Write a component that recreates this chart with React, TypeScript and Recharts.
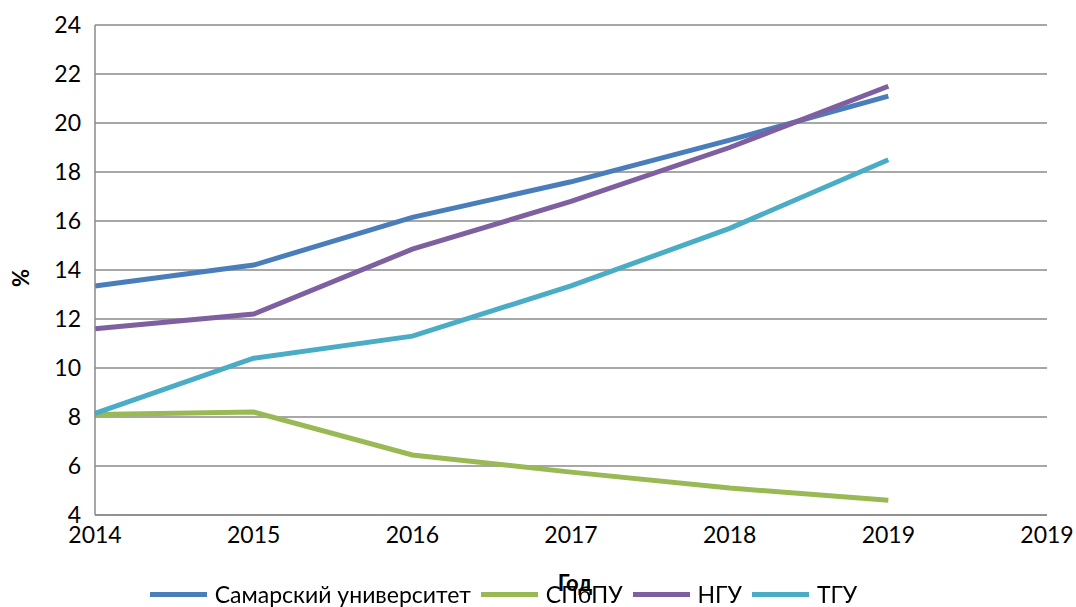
import React from "react";
import { LineChart, Line, XAxis, YAxis, CartesianGrid, Legend } from "recharts";

const YEARS = [2014, 2015, 2016, 2017, 2018, 2019];
const X_TICKS = [2014, 2015, 2016, 2017, 2018, 2019, 2020];
const X_TICK_LABELS = ["2014", "2015", "2016", "2017", "2018", "2019", "2019"];
const Y_TICKS = [4, 6, 8, 10, 12, 14, 16, 18, 20, 22, 24];

const SAMARA = [13.35, 14.2, 16.15, 17.6, 19.3, 21.1];
const SPBPU = [8.1, 8.2, 6.45, 5.75, 5.1, 4.6];
const NGU = [11.6, 12.2, 14.85, 16.8, 19.0, 21.5];
const TGU = [8.15, 10.4, 11.3, 13.35, 15.7, 18.5];

const SERIES = [
  { key: "samara", name: "Самарский университет", color: "#4A7EBB", values: SAMARA },
  { key: "spbpu", name: "СПбПУ", color: "#98B954", values: SPBPU },
  { key: "ngu", name: "НГУ", color: "#7E5FA0", values: NGU },
  { key: "tgu", name: "ТГУ", color: "#4BACC6", values: TGU },
];

const data = YEARS.map((year, i) => {
  const row: any = { year };
  SERIES.forEach((s) => {
    row[s.key] = s.values[i];
  });
  return row;
});

const FONT = "Lato, 'DejaVu Sans', sans-serif";
const GRID = "#8a8a8a";
const FS = 23;

// legend drawn by hand: line swatch + label, shifted a bit left like the original
const renderLegend = () => (
  <div style={{ display: "flex", justifyContent: "center", alignItems: "center", fontFamily: FONT, fontSize: FS, color: "#000", lineHeight: "26px", paddingRight: 30 }}>
    {SERIES.map((s) => (
      <div key={s.key} style={{ display: "flex", alignItems: "center", marginRight: 10 }}>
        <div style={{ width: 57, height: 5, background: s.color, marginRight: 8 }} />
        <span>{s.name}</span>
      </div>
    ))}
  </div>
);

export default function App() {
  return (
    <div style={{ position: "fixed", left: 0, top: 0, width: 1076, height: 607, fontFamily: FONT, background: "#fff" }}>
      <LineChart width={1076} height={607} data={data} margin={{ top: 25, right: 29, left: 0, bottom: 0 }}>
        <CartesianGrid vertical={false} stroke={GRID} strokeWidth={1.5} />
        <XAxis
          dataKey="year"
          type="number"
          domain={[2014, 2020]}
          ticks={X_TICKS}
          tickFormatter={(v: number) => X_TICK_LABELS[X_TICKS.indexOf(v)]}
          height={66}
          tickLine={false}
          axisLine={{ stroke: GRID, strokeWidth: 1.5 }}
          tickMargin={6}
          tick={{ fill: "#000", fontSize: FS, fontFamily: FONT }}
          label={(props: any) => {
            const vb = props.viewBox;
            return (
              <text x={vb.x + vb.width / 2 + 4} y={vb.y + 76} textAnchor="middle" fontFamily={FONT} fontSize={22} fontWeight="bold" fill="#000">
                Год
              </text>
            );
          }}
        />
        <YAxis
          domain={[4, 24]}
          ticks={Y_TICKS}
          width={95}
          tickLine={false}
          axisLine={{ stroke: GRID, strokeWidth: 1.5 }}
          tickMargin={8}
          tick={{ fill: "#000", fontSize: FS, fontFamily: FONT }}
          label={(props: any) => {
            const vb = props.viewBox;
            const cx = 20;
            const cy = vb.y + vb.height / 2 + 8;
            return (
              <text x={cx} y={cy} transform={`rotate(-90 ${cx} ${cy})`} textAnchor="middle" dominantBaseline="central" fontFamily={FONT} fontSize={22} fontWeight="bold" fill="#000">
                %
              </text>
            );
          }}
        />
        <Legend verticalAlign="bottom" height={26} content={renderLegend} />
        {SERIES.map((s) => (
          <Line
            key={s.key}
            dataKey={s.key}
            name={s.name}
            type="linear"
            stroke={s.color}
            strokeWidth={5}
            dot={false}
            activeDot={false}
            isAnimationActive={false}
          />
        ))}
      </LineChart>
    </div>
  );
}
